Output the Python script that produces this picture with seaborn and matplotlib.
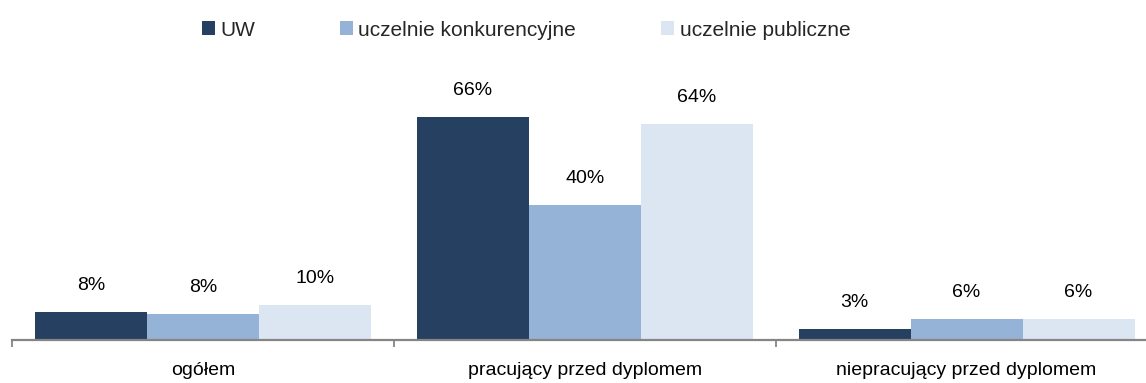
import matplotlib
matplotlib.use("Agg")
import matplotlib.pyplot as plt
import seaborn as sns
import pandas as pd

categories = ["ogółem", "pracujący przed dyplomem", "niepracujący przed dyplomem"]
series = ["UW", "uczelnie konkurencyjne", "uczelnie publiczne"]
uw = [8.3, 66.0, 3.3]
konkurencyjne = [7.7, 40.0, 6.2]
publiczne = [10.4, 63.9, 6.2]
colors = ["#254061", "#95B3D7", "#DCE6F2"]

rows = []
for name, vals in zip(series, [uw, konkurencyjne, publiczne]):
    for cat, v in zip(categories, vals):
        rows.append({"kategoria": cat, "grupa": name, "wartosc": v})
df = pd.DataFrame(rows)

sns.set_theme(style="white")
plt.rcParams["font.family"] = ["Liberation Sans", "DejaVu Sans"]

fig = plt.figure(figsize=(11.46, 3.83), dpi=100)
ax = fig.add_axes([12 / 1146, 43 / 383, 1134 / 1146, 280 / 383])

sns.barplot(data=df, x="kategoria", y="wartosc", hue="grupa", order=categories,
            hue_order=series, palette=colors, width=0.88, gap=0, saturation=1,
            errorbar=None, ax=ax, legend=True, linewidth=0)

for container in ax.containers:
    ax.bar_label(container, labels=[f"{v:.0f}%" for v in container.datavalues],
                 padding=13, fontsize=14, color="#000000")

ax.set_xlim(-0.5, 2.47)
ax.set_ylim(0, 82.8)
ax.set_xlabel("")
ax.set_ylabel("")
ax.set_yticks([])
ax.set_xticks([-0.5, 0.5, 1.5], minor=False)
ax.set_xticklabels([])
ax.set_xticks([0, 1, 2], minor=True)
ax.set_xticklabels(categories, minor=True, fontsize=14, color="#000000")
ax.tick_params(axis="x", which="major", length=5, width=1.3, color="#858585",
               direction="out", bottom=True)
ax.tick_params(axis="x", which="minor", length=0, pad=16)
for side in ["top", "right", "left"]:
    ax.spines[side].set_visible(False)
ax.spines["bottom"].set_color("#858585")
ax.spines["bottom"].set_linewidth(1.6)

handles, labels = ax.get_legend_handles_labels()
ax.legend(handles, labels, loc="center", bbox_to_anchor=(526 / 1146, 1 - 30 / 383),
          bbox_transform=fig.transFigure, ncol=3, frameon=False, fontsize=15,
          handlelength=0.62, handleheight=0.62, handletextpad=0.25, columnspacing=4.1)

fig.savefig("out.png", dpi=100)
